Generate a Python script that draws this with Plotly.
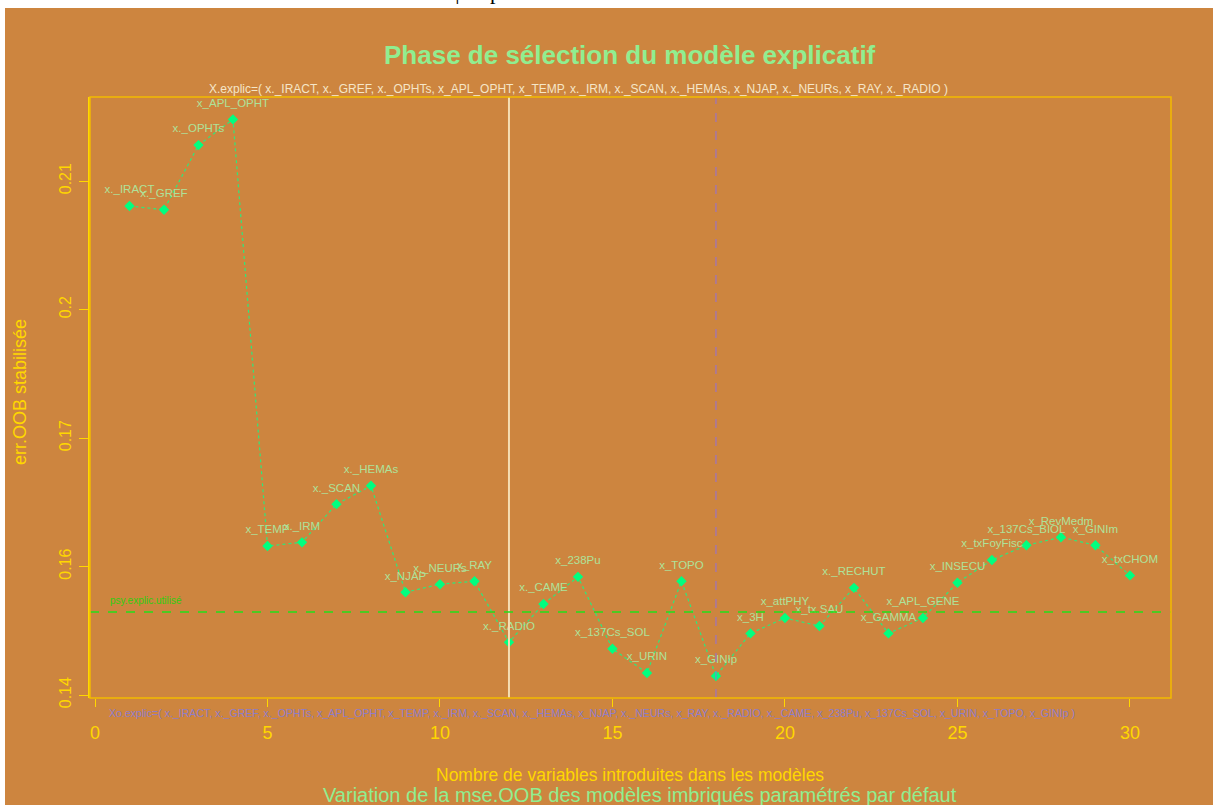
import plotly.graph_objects as go

# ---------------- data ----------------
n_vars = list(range(1, 31))
var_names = ["x._IRACT", "x._GREF", "x._OPHTs", "x_APL_OPHT", "x_TEMP", "x._IRM",
             "x._SCAN", "x._HEMAs", "x_NJAP", "x._NEURs", "x_RAY", "x._RADIO",
             "x._CAME", "x_238Pu", "x_137Cs_SOL", "x_URIN", "x_TOPO", "x_GINIp",
             "x_3H", "x_attPHY", "x_tx.SAU", "x._RECHUT", "x_GAMMA", "x_APL_GENE",
             "x_INSECU", "x_txFoyFisc", "x_137Cs_BIOL", "x_RevMedm", "x_GINIm", "x_txCHOM"]
err_oob = [0.2066, 0.2061, 0.2149, 0.2184, 0.1603, 0.1608, 0.1660, 0.1685, 0.1540, 0.1551,
           0.1555, 0.1472, 0.1524, 0.1561, 0.1463, 0.1430, 0.1555, 0.1426, 0.1484, 0.1505,
           0.1494, 0.1546, 0.1484, 0.1505, 0.1553, 0.1584, 0.1604, 0.1615, 0.1604, 0.1563]
psy_explic_level = 0.1513
n_explic = 12          # selected model (white line)
n_explic_o = 18        # extended model (purple dashed line)

x_tickvals = [0, 5, 10, 15, 20, 25, 30]
y_tickvals = [0.14, 0.1575, 0.175, 0.1925, 0.21]
y_ticktext = ["0.14", "0.16", "0.17", "0.2", "0.21"]

title_txt = "Phase de sélection du modèle explicatif"
subtitle_txt = ("X.explic=( x._IRACT, x._GREF, x._OPHTs, x_APL_OPHT, x_TEMP, x._IRM, x._SCAN, "
                "x._HEMAs, x_NJAP, x._NEURs, x_RAY, x._RADIO )")
xo_txt = ("Xo.explic=( x._IRACT, x._GREF, x._OPHTs, x_APL_OPHT, x_TEMP, x._IRM, x._SCAN, "
          "x._HEMAs, x_NJAP, x._NEURs, x_RAY, x._RADIO, x._CAME, x_238Pu, x_137Cs_SOL, "
          "x_URIN, x_TOPO, x_GINIp )")
xlab_txt = "Nombre de variables introduites dans les modèles"
sub_txt = "Variation de la mse.OOB des modèles imbriqués paramétrés par défaut"
ylab_txt = "err.OOB stabilisée"
line_lab = "psy.explic.utilisé"

# ---------------- layout geometry ----------------
W, H = 1213, 805
L, R, T, B = 90, 1171, 97, 698


def px(x):
    return (x - L) / (R - L)


def py(y):
    return (B - y) / (B - T)


PERU = "#CD853F"
GOLD = "#FFD700"
FONT = "Liberation Sans, Arial, sans-serif"

fig = go.Figure()

# dotted line + diamond markers
fig.add_trace(go.Scatter(
    x=n_vars, y=err_oob, mode="lines+markers",
    line=dict(color="#2EE87A", width=1.2, dash="dot"),
    marker=dict(symbol="diamond", size=8, color="#00FF7F"),
    cliponaxis=False, showlegend=False, hoverinfo="x+y"))

# labels above points (invisible larger marker pushes text a bit higher)
fig.add_trace(go.Scatter(
    x=n_vars, y=err_oob, mode="markers+text",
    text=var_names, textposition="top center",
    textfont=dict(family=FONT, size=11.5, color="#AEE29A"),
    marker=dict(size=14, color="rgba(0,0,0,0)"),
    cliponaxis=False, showlegend=False, hoverinfo="skip"))

shapes = [
    # orange page background (white margin on top/left as in screenshot)
    dict(type="rect", xref="paper", yref="paper", x0=px(5), x1=px(W + 5), y0=py(H + 5), y1=py(8),
         fillcolor=PERU, line=dict(width=0), layer="below"),
    dict(type="line", xref="x", yref="paper", x0=n_explic, x1=n_explic, y0=0, y1=1,
         line=dict(color="#F5DEB3", width=2)),
    dict(type="line", xref="x", yref="paper", x0=n_explic_o, x1=n_explic_o, y0=0, y1=1,
         line=dict(color="#9370DB", width=1, dash="dash")),
    dict(type="line", xref="paper", yref="y", x0=0, x1=1, y0=psy_explic_level, y1=psy_explic_level,
         line=dict(color="#22E01A", width=1.5, dash="dash")),
    dict(type="rect", xref="paper", yref="paper", x0=0, x1=1, y0=0, y1=1,
         line=dict(color="#F2BA00", width=1.5)),
]

ann = [
    dict(text="<b>" + title_txt + "</b>", x=px(630), y=py(55), font=dict(size=26, color="#90EE90")),
    dict(text=subtitle_txt, x=px(578), y=py(89), font=dict(size=12, color="#F5E6C8")),
    dict(text=xo_txt, x=px(107), y=py(713), xanchor="left", font=dict(size=10.6, color="#8E7CC8")),
    dict(text=xlab_txt, x=px(630), y=py(775), font=dict(size=17.5, color=GOLD)),
    dict(text=sub_txt, x=px(640), y=py(795), font=dict(size=20, color="#90EE90")),
    dict(text=ylab_txt, x=px(20), y=py(392), textangle=-90, font=dict(size=18, color=GOLD)),
    dict(text=line_lab, x=px(108), y=py(600), xanchor="left", font=dict(size=10, color="#30CC10")),
    dict(text="φ.explic", x=px(487), y=py(6), yanchor="bottom",
         font=dict(size=22, color="black", family="Liberation Serif, serif")),
]
for a in ann:
    a.setdefault("xref", "paper")
    a.setdefault("yref", "paper")
    a.setdefault("showarrow", False)
    a.setdefault("xanchor", "center")
    a.setdefault("yanchor", "middle")
    a["font"].setdefault("family", FONT)

fig.update_layout(
    width=W, height=H,
    margin=dict(l=L, r=W - R, t=T, b=H - B, pad=0),
    paper_bgcolor="white", plot_bgcolor=PERU,
    shapes=shapes, annotations=ann,
    font=dict(family=FONT),
    xaxis=dict(range=[-0.145, 31.19], tickvals=x_tickvals, ticks="outside", ticklen=8,
               tickcolor=GOLD, showgrid=False, zeroline=False, showline=False,
               tickfont=dict(size=18, color=GOLD), ticklabelstandoff=10),
    yaxis=dict(range=[0.1396, 0.22145], tickvals=y_tickvals, ticktext=y_ticktext,
               ticks="outside", ticklen=9, tickcolor=GOLD, tickangle=-90,
               showgrid=False, zeroline=False, showline=True, linecolor=GOLD, linewidth=1.5,
               tickfont=dict(size=16, color=GOLD), ticklabelstandoff=2),
)

fig.write_html("out.html", config={"displayModeBar": False},
               post_script="document.body.style.margin='0px';document.body.style.overflow='hidden';")
